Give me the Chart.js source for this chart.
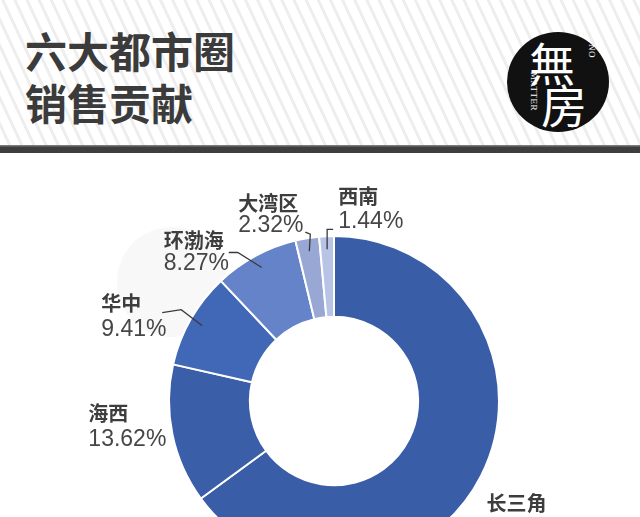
<!DOCTYPE html>
<html>
<head>
<meta charset="utf-8">
<script src="https://cdn.jsdelivr.net/npm/chart.js@4.4.1/dist/chart.umd.min.js"></script>
<style>
  html, body { margin: 0; padding: 0; }
  body {
    width: 640px; height: 517px; overflow: hidden; position: relative;
    background: #fff; font-family: 'Noto Sans CJK SC', sans-serif;
  }
  #header {
    position: absolute; left: 0; top: 0; width: 640px; height: 145px;
    background: repeating-linear-gradient(65deg, #ffffff 0px, #ffffff 7px, #eeeeee 7.5px, #eeeeee 10px, #ffffff 10.5px, #ffffff 11px);
  }
  #bar {
    position: absolute; left: 0; top: 145px; width: 640px; height: 8px;
    background: linear-gradient(to bottom, #7a7a7a 0px, #7a7a7a 1px, #3e3e3e 2px, #3e3e3e 8px);
  }
  #title {
    position: absolute; left: 25px; top: 24px;
    font-size: 42px; line-height: 52px; font-weight: 700; color: #3b3b3b;
  }
  #logo {
    position: absolute; left: 507px; top: 32px; width: 102px; height: 100px;
    border-radius: 50%; background: #111;
  }
  #logo .big {
    position: absolute; color: #fff; font-weight: 400; font-size: 46px; line-height: 46px;
  }
  #logo .small {
    position: absolute; color: #fff; font-family: 'Liberation Serif', serif; font-size: 9px;
    transform: rotate(90deg); transform-origin: left top; letter-spacing: 0.5px;
  }
  #mark {
    position: absolute; left: 117px; top: 227px; width: 110px; height: 110px;
    border-radius: 50%; background: #f8f8f8;
  }
  #chartBox {
    position: absolute; left: 0; top: 155px; width: 640px; height: 480px;
  }
</style>
</head>
<body>
<div id="header"></div>
<div id="bar"></div>
<div id="title">六大都市圈<br>销售贡献</div>
<div id="logo">
  <div class="big" style="left:22px; top:6px;">無</div>
  <div class="big" style="left:34px; top:48px;">房</div>
  <div class="small" style="left:90px; top:12px;">NO</div>
  <div class="small" style="left:32px; top:40px;">MATTER</div>
</div>
<div id="mark"></div>
<div id="chartBox"><canvas id="share"></canvas></div>
<script>
  // Data
  const regions = ['长三角', '海西', '华中', '环渤海', '大湾区', '西南'];
  const shares = [64.94, 13.62, 9.41, 8.27, 2.32, 1.44];
  const sliceColors = ['#3a5da8', '#3b5ea8', '#4068b6', '#6483c8', '#99a7d5', '#b8c4e6'];

  // Label placement relative to each slice's anchor point (x offset, name y, value y, leader points)
  const labelLayout = [
    { dx: 17, ny: 34, vy: 60, leader: null },
    { dx: -97, ny: -18, vy: 8, leader: null },
    { dx: -101, ny: -22, vy: 4, leader: [[-21, -16], [-40, -13]] },
    { dx: -98, ny: -27, vy: -4, leader: [[-24, -15], [-33, -15]] },
    { dx: -71, ny: -48, vy: -26, leader: [[1, -17], [-4, -19]] },
    { dx: 11, ny: -53, vy: -28, leader: [[0, -20], [6, -20]] }
  ];

  const sliceLabels = {
    id: 'sliceLabels',
    afterDatasetsDraw(chart) {
      const ctx = chart.ctx;
      const meta = chart.getDatasetMeta(0);
      ctx.save();
      meta.data.forEach((arc, i) => {
        const p = arc.getProps(['x', 'y', 'startAngle', 'endAngle', 'outerRadius'], true);
        const mid = (p.startAngle + p.endAngle) / 2;
        const ax = p.x + Math.cos(mid) * p.outerRadius * 0.92;
        const ay = p.y + Math.sin(mid) * p.outerRadius * 0.92;
        const lay = labelLayout[i];

        if (lay.leader) {
          ctx.beginPath();
          ctx.moveTo(ax, ay);
          lay.leader.forEach(pt => ctx.lineTo(ax + pt[0], ay + pt[1]));
          ctx.strokeStyle = '#3a3a3a';
          ctx.lineWidth = 1.3;
          ctx.stroke();
        }

        ctx.textAlign = 'left';
        ctx.textBaseline = 'middle';
        ctx.fillStyle = '#3d3d3d';
        ctx.font = "bold 20px 'Noto Sans CJK SC'";
        ctx.fillText(regions[i], ax + lay.dx, ay + lay.ny);
        ctx.fillStyle = '#464646';
        ctx.font = "23px 'Liberation Sans', Arial";
        ctx.fillText(shares[i].toFixed(2) + '%', ax + lay.dx, ay + lay.vy);
      });
      ctx.restore();
    }
  };

  new Chart(document.getElementById('share'), {
    type: 'doughnut',
    data: {
      labels: regions,
      datasets: [{
        data: shares,
        backgroundColor: sliceColors,
        borderColor: '#ffffff',
        borderWidth: 2
      }]
    },
    options: {
      responsive: true,
      maintainAspectRatio: false,
      animation: false,
      cutout: '51%',
      layout: { padding: { left: 168, right: 140, top: 80, bottom: 68 } },
      plugins: {
        legend: { display: false },
        tooltip: { enabled: false }
      }
    },
    plugins: [sliceLabels]
  });
</script>
</body>
</html>
